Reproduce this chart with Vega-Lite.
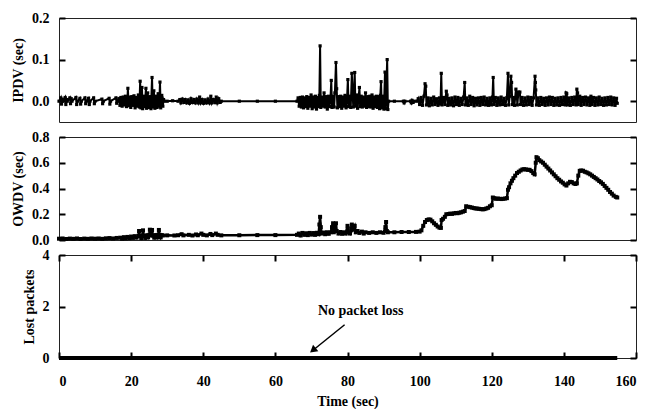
{
"$schema": "https://vega.github.io/schema/vega-lite/v6.json",
"padding": {"left": 11, "top": 10, "right": 14, "bottom": 0},
"background": "#ffffff",
"bounds": "flush",
"spacing": 15,
"config": {
  "font": "Liberation Serif",
  "view": {"stroke": "#222", "strokeWidth": 1},
  "axis": {"labelFont": "Liberation Serif", "labelFontSize": 14, "labelFontWeight": "bold", "labelColor": "#000",
           "titleFont": "Liberation Serif", "titleFontSize": 14, "titleFontWeight": "bold", "titleColor": "#000",
           "domain": false, "grid": false, "tickColor": "#000", "tickSize": 6, "tickWidth": 2, "offset": -6, "zindex": 1}
},
"datasets": {
"ipdv": [
{"t":0,"v":0},{"t":0.5,"v":0.008},{"t":0.7,"v":-0.007},{"t":0.9,"v":0.005},{"t":1.1,"v":0},
{"t":1.7,"v":0.009},{"t":1.9,"v":-0.008},{"t":2.1,"v":0.004},{"t":2.3,"v":0},
{"t":3.0,"v":0.008},{"t":3.2,"v":-0.006},{"t":3.4,"v":0.006},{"t":3.6,"v":0},
{"t":4.7,"v":0.009},{"t":4.9,"v":-0.008},{"t":5.1,"v":0},
{"t":5.8,"v":0.007},{"t":6.0,"v":-0.007},{"t":6.2,"v":0},
{"t":7.2,"v":0.008},{"t":7.4,"v":-0.006},{"t":7.6,"v":0},
{"t":8.2,"v":0.007},{"t":8.4,"v":-0.008},{"t":8.6,"v":0},
{"t":9.6,"v":0.008},{"t":9.8,"v":-0.006},{"t":10.0,"v":0},
{"t":11.9,"v":0.005},{"t":12.1,"v":-0.006},{"t":12.3,"v":0},
{"t":13.9,"v":0.007},{"t":14.1,"v":-0.007},{"t":14.3,"v":0},
{"t":15.8,"v":0.008},{"t":16.0,"v":-0.005},{"t":16.2,"v":0},
{"t":16.6,"v":0.006},{"t":16.9,"v":-0.01},{"t":17.2,"v":0.009},{"t":17.5,"v":-0.012},{"t":17.8,"v":0.01},{"t":18.1,"v":-0.009},{"t":18.4,"v":0.012},{"t":18.7,"v":-0.013},{"t":19.0,"v":0.008},{"t":19.1,"v":0.031},{"t":19.3,"v":-0.011},{"t":19.6,"v":0.01},{"t":19.9,"v":-0.015},{"t":20.2,"v":0.011},{"t":20.5,"v":-0.01},{"t":20.8,"v":0.013},{"t":21.1,"v":-0.016},{"t":21.4,"v":0.009},{"t":21.7,"v":-0.012},{"t":22.0,"v":0.015},{"t":22.3,"v":-0.014},{"t":22.5,"v":0.048},{"t":22.7,"v":-0.016},{"t":23.0,"v":0.033},{"t":23.2,"v":-0.018},{"t":23.5,"v":0.012},{"t":23.8,"v":-0.013},{"t":24.1,"v":0.031},{"t":24.3,"v":-0.017},{"t":24.6,"v":0.02},{"t":24.9,"v":-0.015},{"t":25.2,"v":0.011},{"t":25.5,"v":-0.018},{"t":25.8,"v":0.057},{"t":26.0,"v":-0.014},{"t":26.3,"v":0.025},{"t":26.6,"v":-0.017},{"t":26.9,"v":0.012},{"t":27.2,"v":-0.015},{"t":27.5,"v":0.018},{"t":27.8,"v":-0.012},{"t":28.0,"v":0.046},{"t":28.2,"v":-0.016},{"t":28.5,"v":0.014},{"t":28.8,"v":-0.012},{"t":29.0,"v":0.004},{"t":29.2,"v":0},
{"t":30,"v":0},{"t":31.5,"v":0.001},{"t":33.0,"v":0},{"t":33.5,"v":0.004},{"t":33.8,"v":-0.004},{"t":34.2,"v":0.005},{"t":34.6,"v":-0.003},{"t":35.0,"v":0.004},{"t":35.4,"v":-0.004},{"t":35.8,"v":0.003},{"t":36.2,"v":-0.005},{"t":36.6,"v":0.006},{"t":37.0,"v":-0.003},{"t":37.4,"v":0.004},{"t":37.8,"v":-0.004},{"t":38.2,"v":0.005},{"t":38.6,"v":-0.004},{"t":39.0,"v":0.01},{"t":39.3,"v":-0.004},{"t":39.7,"v":0.004},{"t":40.1,"v":-0.005},{"t":40.5,"v":0.003},{"t":40.9,"v":-0.004},{"t":41.3,"v":0.005},{"t":41.7,"v":-0.004},{"t":42.1,"v":0.012},{"t":42.4,"v":-0.004},{"t":42.8,"v":0.004},{"t":43.2,"v":-0.003},{"t":43.6,"v":0.01},{"t":43.9,"v":-0.004},{"t":44.3,"v":0.006},{"t":44.7,"v":-0.003},{"t":45.0,"v":0},
{"t":50,"v":0},{"t":55,"v":0},{"t":60,"v":0},{"t":66,"v":0},
{"t":66.3,"v":0.008},{"t":66.6,"v":-0.012},{"t":66.9,"v":0.009},{"t":67.2,"v":-0.014},{"t":67.5,"v":0.01},{"t":67.8,"v":-0.016},{"t":68.1,"v":0.008},{"t":68.4,"v":-0.013},{"t":68.7,"v":0.011},{"t":69.0,"v":-0.017},{"t":69.3,"v":0.009},{"t":69.6,"v":-0.012},{"t":69.9,"v":0.015},{"t":70.2,"v":-0.018},{"t":70.5,"v":0.01},{"t":70.8,"v":-0.014},{"t":71.1,"v":0.012},{"t":71.4,"v":-0.019},{"t":71.7,"v":0.009},{"t":72.0,"v":-0.013},{"t":72.2,"v":0.014},{"t":72.4,"v":0.133},{"t":72.6,"v":-0.015},{"t":72.9,"v":0.01},{"t":73.2,"v":-0.012},{"t":73.5,"v":0.02},{"t":73.8,"v":-0.014},{"t":74.1,"v":0.011},{"t":74.4,"v":-0.019},{"t":74.7,"v":0.012},{"t":75.0,"v":-0.013},{"t":75.3,"v":0.01},{"t":75.5,"v":0.05},{"t":75.7,"v":-0.015},{"t":76.0,"v":0.012},{"t":76.3,"v":-0.014},{"t":76.5,"v":0.02},{"t":76.8,"v":0.093},{"t":77.0,"v":0.03},{"t":77.2,"v":-0.016},{"t":77.5,"v":0.011},{"t":77.8,"v":-0.013},{"t":78.1,"v":0.012},{"t":78.4,"v":-0.017},{"t":78.7,"v":0.01},{"t":79.0,"v":-0.012},{"t":79.3,"v":0.014},{"t":79.6,"v":-0.016},{"t":79.9,"v":0.011},{"t":80.1,"v":0.052},{"t":80.3,"v":-0.013},{"t":80.6,"v":0.012},{"t":80.9,"v":-0.015},{"t":81.2,"v":0.067},{"t":81.4,"v":0.02},{"t":81.6,"v":-0.014},{"t":82.0,"v":0.069},{"t":82.2,"v":-0.012},{"t":82.5,"v":0.015},{"t":82.8,"v":-0.017},{"t":83.1,"v":0.01},{"t":83.3,"v":0.033},{"t":83.5,"v":-0.013},{"t":83.8,"v":0.012},{"t":84.1,"v":-0.014},{"t":84.4,"v":0.01},{"t":84.7,"v":-0.012},{"t":85.0,"v":0.02},{"t":85.3,"v":-0.015},{"t":85.6,"v":0.011},{"t":85.9,"v":-0.013},{"t":86.2,"v":0.012},{"t":86.5,"v":-0.014},{"t":86.8,"v":0.015},{"t":87.1,"v":-0.017},{"t":87.4,"v":0.01},{"t":87.7,"v":-0.013},{"t":88.0,"v":0.012},{"t":88.3,"v":-0.015},{"t":88.6,"v":0.011},{"t":88.9,"v":-0.018},{"t":89.1,"v":0.014},{"t":89.3,"v":0.047},{"t":89.5,"v":-0.016},{"t":89.8,"v":0.012},{"t":90.1,"v":-0.019},{"t":90.4,"v":0.07},{"t":90.6,"v":-0.018},{"t":90.8,"v":0.04},{"t":91.0,"v":0.1},{"t":91.2,"v":-0.02},{"t":91.4,"v":0},
{"t":93,"v":0},{"t":95.5,"v":0},{"t":95.7,"v":-0.004},{"t":95.9,"v":0},{"t":97.5,"v":0},{"t":97.7,"v":-0.004},{"t":97.9,"v":0.002},{"t":98.2,"v":-0.003},{"t":98.5,"v":0},{"t":99.3,"v":0},
{"t":99.6,"v":0.006},{"t":100.0,"v":-0.008},{"t":100.4,"v":0.009},{"t":100.8,"v":-0.01},{"t":101.2,"v":0.012},{"t":101.5,"v":0.042},{"t":101.7,"v":0.036},{"t":101.9,"v":-0.009},{"t":102.3,"v":0.008},{"t":102.7,"v":-0.011},{"t":103.1,"v":0.007},{"t":103.5,"v":-0.009},{"t":103.9,"v":0.01},{"t":104.3,"v":-0.008},{"t":104.7,"v":0.006},{"t":105.1,"v":-0.01},{"t":105.5,"v":0.008},{"t":105.8,"v":-0.007},{"t":106.0,"v":0.067},{"t":106.2,"v":-0.009},{"t":106.6,"v":0.009},{"t":107.0,"v":-0.008},{"t":107.4,"v":0.024},{"t":107.6,"v":0.015},{"t":107.8,"v":-0.01},{"t":108.2,"v":0.007},{"t":108.6,"v":-0.009},{"t":109.0,"v":0.008},{"t":109.4,"v":-0.011},{"t":109.8,"v":0.01},{"t":110.2,"v":-0.008},{"t":110.6,"v":0.009},{"t":111.0,"v":-0.01},{"t":111.4,"v":0.007},{"t":111.8,"v":-0.008},{"t":112.2,"v":0.01},{"t":112.5,"v":0.045},{"t":112.7,"v":-0.009},{"t":113.1,"v":0.008},{"t":113.5,"v":-0.01},{"t":113.9,"v":0.012},{"t":114.3,"v":-0.008},{"t":114.7,"v":0.009},{"t":115.1,"v":-0.011},{"t":115.5,"v":0.007},{"t":115.9,"v":-0.009},{"t":116.3,"v":0.008},{"t":116.7,"v":-0.01},{"t":117.1,"v":0.009},{"t":117.5,"v":-0.008},{"t":117.9,"v":0.01},{"t":118.3,"v":-0.009},{"t":118.7,"v":0.007},{"t":119.1,"v":-0.01},{"t":119.5,"v":0.008},{"t":119.9,"v":-0.009},{"t":120.2,"v":0.01},{"t":120.4,"v":0.057},{"t":120.6,"v":-0.008},{"t":121.0,"v":0.009},{"t":121.4,"v":-0.01},{"t":121.8,"v":0.008},{"t":122.2,"v":-0.009},{"t":122.6,"v":0.01},{"t":123.0,"v":-0.008},{"t":123.4,"v":0.007},{"t":123.8,"v":-0.01},{"t":124.2,"v":0.009},{"t":124.5,"v":0.067},{"t":124.7,"v":-0.009},{"t":125.0,"v":0.012},{"t":125.3,"v":0.06},{"t":125.5,"v":0.045},{"t":125.7,"v":-0.008},{"t":126.0,"v":0.009},{"t":126.3,"v":-0.01},{"t":126.7,"v":0.029},{"t":126.9,"v":0.02},{"t":127.1,"v":-0.009},{"t":127.4,"v":0.022},{"t":127.8,"v":0.022},{"t":128.0,"v":-0.008},{"t":128.4,"v":0.009},{"t":128.8,"v":-0.01},{"t":129.2,"v":0.008},{"t":129.6,"v":-0.009},{"t":130.0,"v":0.01},{"t":130.4,"v":-0.008},{"t":130.8,"v":0.009},{"t":131.2,"v":-0.01},{"t":131.6,"v":0.008},{"t":132.0,"v":0.06},{"t":132.1,"v":0.045},{"t":132.2,"v":0.027},{"t":132.4,"v":-0.009},{"t":132.8,"v":0.008},{"t":133.2,"v":-0.01},{"t":133.6,"v":0.009},{"t":134.0,"v":-0.008},{"t":134.4,"v":0.007},{"t":134.8,"v":-0.01},{"t":135.2,"v":0.008},{"t":135.6,"v":-0.009},{"t":136.0,"v":0.01},{"t":136.4,"v":-0.008},{"t":136.8,"v":0.009},{"t":137.2,"v":-0.01},{"t":137.6,"v":0.007},{"t":138.0,"v":-0.009},{"t":138.4,"v":0.008},{"t":138.8,"v":-0.01},{"t":139.2,"v":0.009},{"t":139.6,"v":-0.008},{"t":140.0,"v":0.01},{"t":140.4,"v":-0.009},{"t":140.6,"v":0.02},{"t":140.8,"v":0.018},{"t":141.0,"v":-0.009},{"t":141.4,"v":0.008},{"t":141.8,"v":-0.01},{"t":142.2,"v":0.009},{"t":142.6,"v":-0.008},{"t":143.0,"v":0.01},{"t":143.4,"v":-0.009},{"t":143.6,"v":0.029},{"t":143.8,"v":0.02},{"t":144.0,"v":-0.008},{"t":144.4,"v":0.012},{"t":144.8,"v":-0.01},{"t":145.2,"v":0.009},{"t":145.6,"v":-0.008},{"t":146.0,"v":0.01},{"t":146.4,"v":-0.009},{"t":146.8,"v":0.008},{"t":147.2,"v":-0.01},{"t":147.5,"v":0.012},{"t":147.8,"v":-0.008},{"t":148.2,"v":0.009},{"t":148.6,"v":-0.01},{"t":149.0,"v":0.008},{"t":149.4,"v":-0.009},{"t":149.8,"v":0.01},{"t":150.2,"v":-0.008},{"t":150.6,"v":0.007},{"t":151.0,"v":-0.01},{"t":151.4,"v":0.008},{"t":151.8,"v":-0.009},{"t":152.2,"v":0.009},{"t":152.6,"v":-0.008},{"t":153.0,"v":0.01},{"t":153.4,"v":-0.009},{"t":153.8,"v":0.008},{"t":154.2,"v":-0.01},{"t":154.6,"v":0.007},{"t":154.8,"v":-0.005}
],
"owdv": [
{"t":0,"v":0.01},{"t":1,"v":0.012},{"t":2,"v":0.008},{"t":3,"v":0.011},{"t":4,"v":0.009},{"t":5,"v":0.012},{"t":6,"v":0.008},{"t":7,"v":0.011},{"t":8,"v":0.009},{"t":9,"v":0.012},{"t":10,"v":0.01},{"t":11,"v":0.012},{"t":12,"v":0.009},{"t":13,"v":0.013},{"t":14,"v":0.015},{"t":15,"v":0.012},{"t":16,"v":0.016},{"t":17,"v":0.018},{"t":17.5,"v":0.01},{"t":18,"v":0.022},{"t":18.5,"v":0.012},{"t":19,"v":0.024},{"t":19.5,"v":0.014},{"t":20,"v":0.027},{"t":20.5,"v":0.016},{"t":21,"v":0.03},{"t":21.5,"v":0.018},{"t":22,"v":0.032},{"t":22.2,"v":0.07},{"t":22.4,"v":0.03},{"t":22.8,"v":0.015},{"t":23.1,"v":0.035},{"t":23.3,"v":0.075},{"t":23.5,"v":0.032},{"t":23.9,"v":0.016},{"t":24.3,"v":0.036},{"t":24.7,"v":0.02},{"t":25.0,"v":0.04},{"t":25.2,"v":0.08},{"t":25.4,"v":0.035},{"t":25.6,"v":0.05},{"t":25.8,"v":0.078},{"t":26.0,"v":0.035},{"t":26.4,"v":0.018},{"t":26.8,"v":0.038},{"t":27.2,"v":0.02},{"t":27.5,"v":0.04},{"t":27.7,"v":0.078},{"t":27.9,"v":0.04},{"t":28.2,"v":0.02},{"t":28.5,"v":0.038},{"t":28.8,"v":0.035},
{"t":30,"v":0.036},{"t":32,"v":0.035},{"t":33,"v":0.037},{"t":34,"v":0.045},{"t":34.5,"v":0.036},{"t":36,"v":0.04},{"t":37,"v":0.035},{"t":38,"v":0.043},{"t":38.5,"v":0.037},{"t":39.5,"v":0.05},{"t":40,"v":0.04},{"t":41,"v":0.036},{"t":42,"v":0.047},{"t":42.5,"v":0.038},{"t":43.5,"v":0.05},{"t":44,"v":0.04},{"t":45,"v":0.036},{"t":50,"v":0.037},{"t":55,"v":0.038},{"t":60,"v":0.038},{"t":66,"v":0.04},
{"t":66.5,"v":0.05},{"t":67,"v":0.035},{"t":67.5,"v":0.055},{"t":68,"v":0.04},{"t":68.5,"v":0.052},{"t":69,"v":0.038},{"t":69.5,"v":0.055},{"t":70,"v":0.042},{"t":70.5,"v":0.054},{"t":71,"v":0.04},{"t":71.5,"v":0.056},{"t":72,"v":0.045},{"t":72.2,"v":0.12},{"t":72.4,"v":0.18},{"t":72.6,"v":0.1},{"t":72.8,"v":0.05},{"t":73.3,"v":0.058},{"t":73.8,"v":0.045},{"t":74.3,"v":0.06},{"t":74.8,"v":0.048},{"t":75.3,"v":0.06},{"t":75.7,"v":0.1},{"t":76,"v":0.13},{"t":76.2,"v":0.06},{"t":76.5,"v":0.09},{"t":76.8,"v":0.13},{"t":77,"v":0.07},{"t":77.5,"v":0.05},{"t":78,"v":0.062},{"t":78.5,"v":0.048},{"t":79,"v":0.06},{"t":79.5,"v":0.05},{"t":80,"v":0.11},{"t":80.2,"v":0.06},{"t":80.7,"v":0.05},{"t":81,"v":0.09},{"t":81.2,"v":0.12},{"t":81.4,"v":0.08},{"t":81.8,"v":0.1},{"t":82,"v":0.11},{"t":82.3,"v":0.06},{"t":82.8,"v":0.07},{"t":83.3,"v":0.055},{"t":84,"v":0.065},{"t":84.5,"v":0.05},{"t":85,"v":0.06},{"t":86,"v":0.055},{"t":87,"v":0.06},{"t":88,"v":0.055},{"t":89,"v":0.06},{"t":90,"v":0.056},{"t":90.5,"v":0.1},{"t":90.7,"v":0.14},{"t":90.9,"v":0.07},{"t":91.2,"v":0.06},
{"t":93,"v":0.06},{"t":95,"v":0.062},{"t":97,"v":0.062},{"t":99,"v":0.063},{"t":100,"v":0.065},{"t":100.5,"v":0.075},{"t":101,"v":0.11},{"t":101.5,"v":0.14},{"t":102,"v":0.155},{"t":102.5,"v":0.16},{"t":103,"v":0.158},{"t":103.5,"v":0.145},{"t":104,"v":0.13},{"t":104.5,"v":0.118},{"t":105,"v":0.105},{"t":105.5,"v":0.096},{"t":105.9,"v":0.094},{"t":106.1,"v":0.155},{"t":106.5,"v":0.165},{"t":107,"v":0.18},{"t":107.4,"v":0.2},{"t":108,"v":0.202},{"t":108.5,"v":0.205},{"t":109,"v":0.203},{"t":109.5,"v":0.207},{"t":110,"v":0.21},{"t":110.5,"v":0.208},{"t":111,"v":0.212},{"t":111.5,"v":0.215},{"t":112,"v":0.22},{"t":112.5,"v":0.225},{"t":112.9,"v":0.262},{"t":113.5,"v":0.258},{"t":114,"v":0.255},{"t":114.5,"v":0.252},{"t":115,"v":0.248},{"t":115.5,"v":0.245},{"t":116,"v":0.244},{"t":116.5,"v":0.242},{"t":117,"v":0.24},{"t":117.5,"v":0.238},{"t":118,"v":0.24},{"t":118.5,"v":0.245},{"t":119,"v":0.25},{"t":119.5,"v":0.262},{"t":120,"v":0.27},{"t":120.3,"v":0.33},{"t":120.7,"v":0.325},{"t":121.2,"v":0.32},{"t":121.7,"v":0.322},{"t":122.2,"v":0.32},{"t":122.7,"v":0.318},{"t":123.2,"v":0.32},{"t":123.7,"v":0.322},{"t":124.2,"v":0.325},{"t":124.5,"v":0.39},{"t":124.8,"v":0.41},{"t":125.2,"v":0.44},{"t":125.6,"v":0.46},{"t":126,"v":0.48},{"t":126.5,"v":0.5},{"t":127,"v":0.52},{"t":127.5,"v":0.53},{"t":128,"v":0.54},{"t":128.5,"v":0.548},{"t":129,"v":0.55},{"t":129.5,"v":0.548},{"t":130,"v":0.545},{"t":130.5,"v":0.545},{"t":131,"v":0.535},{"t":131.5,"v":0.52},{"t":131.9,"v":0.51},{"t":132.2,"v":0.6},{"t":132.4,"v":0.643},{"t":132.8,"v":0.635},{"t":133.2,"v":0.62},{"t":133.7,"v":0.61},{"t":134.2,"v":0.6},{"t":134.7,"v":0.585},{"t":135.2,"v":0.57},{"t":135.7,"v":0.555},{"t":136.2,"v":0.54},{"t":136.7,"v":0.525},{"t":137.2,"v":0.51},{"t":137.7,"v":0.495},{"t":138.2,"v":0.48},{"t":138.7,"v":0.468},{"t":139.2,"v":0.455},{"t":139.7,"v":0.445},{"t":140.2,"v":0.432},{"t":140.7,"v":0.423},{"t":141.2,"v":0.44},{"t":141.7,"v":0.452},{"t":142.2,"v":0.45},{"t":142.7,"v":0.44},{"t":143.2,"v":0.435},{"t":143.6,"v":0.44},{"t":144,"v":0.5},{"t":144.4,"v":0.537},{"t":144.8,"v":0.54},{"t":145.3,"v":0.538},{"t":145.8,"v":0.53},{"t":146.3,"v":0.525},{"t":146.8,"v":0.518},{"t":147.3,"v":0.51},{"t":147.8,"v":0.5},{"t":148.3,"v":0.49},{"t":148.8,"v":0.48},{"t":149.3,"v":0.47},{"t":149.8,"v":0.458},{"t":150.3,"v":0.448},{"t":150.8,"v":0.436},{"t":151.3,"v":0.42},{"t":151.8,"v":0.405},{"t":152.3,"v":0.39},{"t":152.8,"v":0.373},{"t":153.3,"v":0.36},{"t":153.8,"v":0.345},{"t":154.4,"v":0.335},{"t":154.8,"v":0.33}
],
"lost": [
{"t":0,"v":0},{"t":20,"v":0},{"t":40,"v":0},{"t":60,"v":0},{"t":80,"v":0},{"t":100,"v":0},{"t":120,"v":0},{"t":140,"v":0},{"t":154.8,"v":0}
]
},
"vconcat": [
    {
      "width": 577, "height": 104,
      "data": {"name": "ipdv"},
      "layer": [
        {
          "mark": {"type": "line", "color": "#000", "strokeWidth": 2, "point": {"filled": true, "size": 10, "shape": "square", "color": "#000"}},
          "encoding": {
            "x": {"field": "t", "type": "quantitative", "scale": {"domain": [0, 160], "nice": false}, "axis": null},
            "y": {"field": "v", "type": "quantitative", "scale": {"domain": [-0.05, 0.2], "nice": false, "zero": false},
                  "axis": {"orient": "left", "title": "IPDV (sec)", "values": [0, 0.1, 0.2], "format": ".1f", "labelPadding": 10, "titlePadding": 6}}
          }
        },
        {
          "mark": {"type": "point", "opacity": 0},
          "encoding": {
            "x": {"field": "t", "type": "quantitative", "scale": {"domain": [0, 160], "nice": false}, "axis": null},
            "y": {"field": "v", "type": "quantitative", "scale": {"domain": [-0.05, 0.2], "nice": false, "zero": false},
                  "axis": {"orient": "right", "title": null, "labels": false, "values": [0, 0.1, 0.2]}}
          }
        }
      ],
      "resolve": {"axis": {"y": "independent"}}
    },
    {
      "width": 577, "height": 103,
      "data": {"name": "owdv"},
      "layer": [
        {
          "mark": {"type": "line", "color": "#000", "strokeWidth": 2.5, "point": {"filled": true, "size": 16, "shape": "square", "color": "#000"}},
          "encoding": {
            "x": {"field": "t", "type": "quantitative", "scale": {"domain": [0, 160], "nice": false}, "axis": null},
            "y": {"field": "v", "type": "quantitative", "scale": {"domain": [0, 0.8], "nice": false},
                  "axis": {"orient": "left", "title": "OWDV (sec)", "values": [0, 0.2, 0.4, 0.6, 0.8], "format": ".1f", "labelPadding": 10, "titlePadding": 6}}
          }
        },
        {
          "mark": {"type": "point", "opacity": 0},
          "encoding": {
            "x": {"field": "t", "type": "quantitative", "scale": {"domain": [0, 160], "nice": false}, "axis": null},
            "y": {"field": "v", "type": "quantitative", "scale": {"domain": [0, 0.8], "nice": false},
                  "axis": {"orient": "right", "title": null, "labels": false, "values": [0, 0.2, 0.4, 0.6, 0.8]}}
          }
        }
      ],
      "resolve": {"axis": {"y": "independent"}}
    },
{
  "width": 577, "height": 103,
  "layer": [
    {
      "data": {"name": "lost"},
      "mark": {"type": "line", "color": "#000", "strokeWidth": 4},
      "encoding": {
        "x": {"field": "t", "type": "quantitative", "scale": {"domain": [0, 160], "nice": false},
              "axis": {"orient": "bottom", "title": "Time (sec)", "values": [0, 20, 40, 60, 80, 100, 120, 140, 160], "labelPadding": 16, "titlePadding": 6}},
        "y": {"field": "v", "type": "quantitative", "scale": {"domain": [0, 4], "nice": false},
              "axis": {"orient": "left", "title": "Lost packets", "values": [0, 2, 4], "format": "d", "labelPadding": 10, "titlePadding": 6}}
      }
    },
    {
      "data": {"name": "lost"},
      "mark": {"type": "point", "opacity": 0},
      "encoding": {
        "x": {"field": "t", "type": "quantitative", "scale": {"domain": [0, 160], "nice": false},
              "axis": {"orient": "top", "title": null, "labels": false, "values": [0, 20, 40, 60, 80, 100, 120, 140, 160]}},
        "y": {"field": "v", "type": "quantitative", "scale": {"domain": [0, 4], "nice": false},
              "axis": {"orient": "right", "title": null, "labels": false, "values": [0, 2, 4]}}
      }
    },
    {
      "data": {"values": [{"t": 71.8, "v": 1.82, "label": "No packet loss"}]},
      "mark": {"type": "text", "align": "left", "baseline": "middle", "font": "Liberation Serif", "fontSize": 14, "fontWeight": "bold", "color": "#000"},
      "encoding": {
        "x": {"field": "t", "type": "quantitative", "scale": {"domain": [0, 160], "nice": false}, "axis": null},
        "y": {"field": "v", "type": "quantitative", "scale": {"domain": [0, 4], "nice": false}, "axis": null},
        "text": {"field": "label"}
      }
    },
    {
      "data": {"values": [{"t1": 79.2, "v1": 1.29, "t2": 70.6, "v2": 0.32}]},
      "mark": {"type": "rule", "color": "#000", "strokeWidth": 1.5},
      "encoding": {
        "x": {"field": "t1", "type": "quantitative", "scale": {"domain": [0, 160], "nice": false}, "axis": null},
        "y": {"field": "v1", "type": "quantitative", "scale": {"domain": [0, 4], "nice": false}, "axis": null},
        "x2": {"field": "t2"},
        "y2": {"field": "v2"}
      }
    },
    {
      "data": {"values": [{"t": 70.4, "v": 0.3}]},
      "mark": {"type": "point", "shape": "triangle-up", "filled": true, "size": 70, "angle": 231, "color": "#000", "opacity": 1},
      "encoding": {
        "x": {"field": "t", "type": "quantitative", "scale": {"domain": [0, 160], "nice": false}, "axis": null},
        "y": {"field": "v", "type": "quantitative", "scale": {"domain": [0, 4], "nice": false}, "axis": null}
      }
    }
  ],
  "resolve": {"axis": {"x": "independent", "y": "independent"}}
}
]
}
